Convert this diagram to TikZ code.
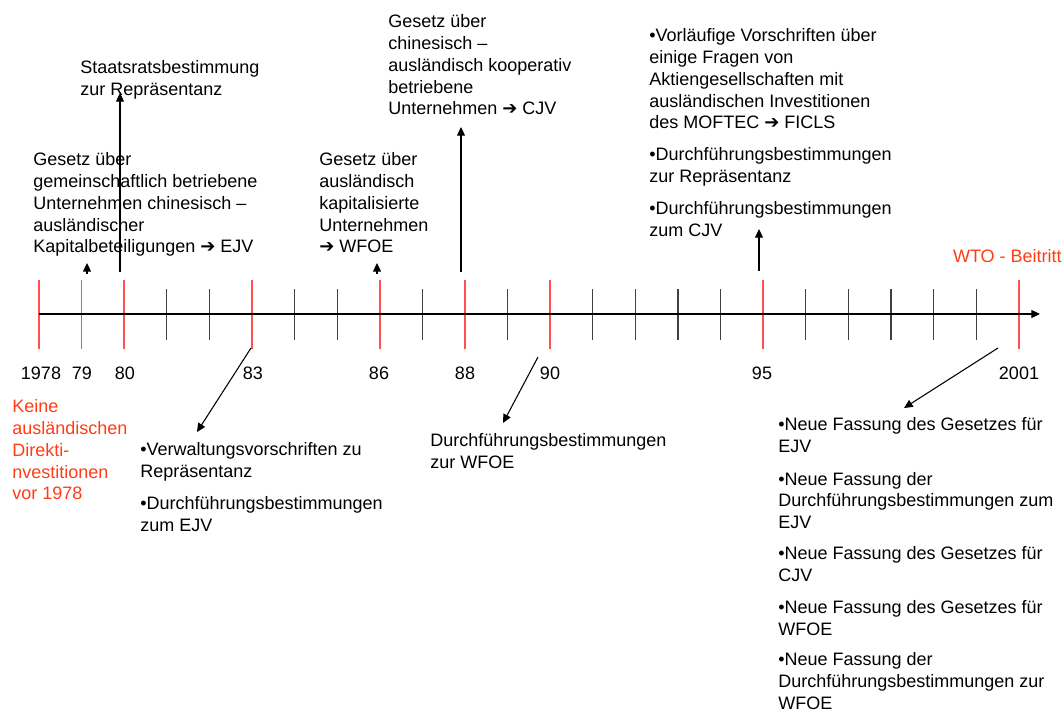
\documentclass[tikz,border=0pt]{standalone}
\usepackage{fontspec}
\setmainfont{Liberation Sans}
\newfontfamily\symfont{DejaVu Sans}
\usetikzlibrary{arrows.meta}
\definecolor{tickred}{RGB}{255,80,80}
\definecolor{textred}{RGB}{255,60,20}
\definecolor{tickgray}{RGB}{64,64,64}
\newcommand{\pf}{{\symfont\bfseries\char"2794}}
\tikzset{
  txt/.style={anchor=base west, align=left, inner sep=0pt, font=\fontsize{13.5}{16.3}\selectfont},
  jahr/.style={anchor=base, inner sep=0pt, font=\fontsize{13.5}{16.3}\selectfont},
  pfeil/.style={-{Triangle[length=6.5pt,width=6pt]}, line width=0.8pt},
}

\begin{document}
\begin{tikzpicture}[x=0.75pt,y=-0.75pt]
    \useasboundingbox (0,0) rectangle (1064,711);

    % Zeitachse
    \coordinate (start) at (39,314);
    \coordinate (ende) at (1040,314);
    \foreach \i in {3,4,6,7,9,11,13,14,15,16,18,19,20,21,22} {
        \draw[tickgray, line width=1pt] ({39+42.6*\i},289) -- ({39+42.6*\i},340);
    }
    \foreach \i in {0,1,2,5,8,10,12,17,23} {
        \draw[tickred, line width=1.1pt] ({39+42.6*\i},280) -- ({39+42.6*\i},349);
    }
    \draw[pfeil] (start) -- (ende);

    % Jahreszahlen
    \node[jahr] (j78) at (41,379) {1978};
    \node[jahr] (j79) at (82,379) {79};
    \node[jahr] (j80) at (125,379) {80};
    \node[jahr] (j83) at (253,379) {83};
    \node[jahr] (j86) at (379,379) {86};
    \node[jahr] (j88) at (465,379) {88};
    \node[jahr] (j90) at (550,379) {90};
    \node[jahr] (j95) at (762,379) {95};
    \node[jahr] (j01) at (1019,379) {2001};

    % oben (Anker = Grundlinie der letzten Zeile)
    \node[txt] (staats) at (80,95.7) {Staatsratsbestimmung\\zur Repräsentanz};
    \node[txt] (ejv) at (33,252.9) {Gesetz über\\gemeinschaftlich betriebene\\Unternehmen chinesisch –\\ausländischer\\Kapitalbeteiligungen \pf\ EJV};
    \node[txt] (wfoe) at (319,252.9) {Gesetz über\\ausländisch\\kapitalisierte\\Unternehmen\\\pf\ WFOE};
    \node[txt] (cjv) at (388,114.9) {Gesetz über\\chinesisch –\\ausländisch kooperativ\\betriebene\\Unternehmen \pf\ CJV};
    \node[txt] (ficls) at (649,128.9) {•Vorläufige Vorschriften über\\einige Fragen von\\Aktiengesellschaften mit\\ausländischen Investitionen\\des MOFTEC \pf\ FICLS};
    \node[txt] (durchrep) at (649,182.7) {•Durchführungsbestimmungen\\zur Repräsentanz};
    \node[txt] (durchcjv) at (649,236.7) {•Durchführungsbestimmungen\\zum CJV};
    \node[txt, anchor=base east, text=textred] (wto) at (1062,262) {WTO - Beitritt};

    % unten
    \node[txt, text=textred] (keine) at (12,499.9) {Keine\\ausländischen\\Direkti-\\nvestitionen\\vor 1978};
    \node[txt] (verw) at (140,477.7) {•Verwaltungsvorschriften zu\\Repräsentanz};
    \node[txt] (durchejv) at (140,531.7) {•Durchführungsbestimmungen\\zum EJV};
    \node[txt] (durchwfoe) at (430,468.7) {Durchführungsbestimmungen\\zur WFOE};
    \node[txt] (neu1) at (778,452.7) {•Neue Fassung des Gesetzes für\\EJV};
    \node[txt] (neu2) at (778,528.5) {•Neue Fassung der\\Durchführungsbestimmungen zum\\EJV};
    \node[txt] (neu3) at (778,581.7) {•Neue Fassung des Gesetzes für\\CJV};
    \node[txt] (neu4) at (778,635.7) {•Neue Fassung des Gesetzes für\\WFOE};
    \node[txt] (neu5) at (778,709) {•Neue Fassung der\\Durchführungsbestimmungen zur\\WFOE};

    % Pfeile
    \coordinate (a79) at (87,274);   \coordinate (b79) at (87,263);
    \coordinate (a80) at (120,272);  \coordinate (b80) at (120,93);
    \coordinate (a86) at (377,274);  \coordinate (b86) at (377,263);
    \coordinate (a88) at (461,272);  \coordinate (b88) at (461,127);
    \coordinate (a95) at (759,271);  \coordinate (b95) at (759,229);
    \coordinate (a83) at (251,348);  \coordinate (b83) at (197,432);
    \coordinate (a90) at (538,357);  \coordinate (b90) at (503,423);
    \coordinate (a01) at (998,348);  \coordinate (b01) at (904,408);
    \foreach \p in {79,80,86,88,95,83,90,01} {
        \draw[pfeil] (a\p) -- (b\p);
    }

\end{tikzpicture}
\end{document}
